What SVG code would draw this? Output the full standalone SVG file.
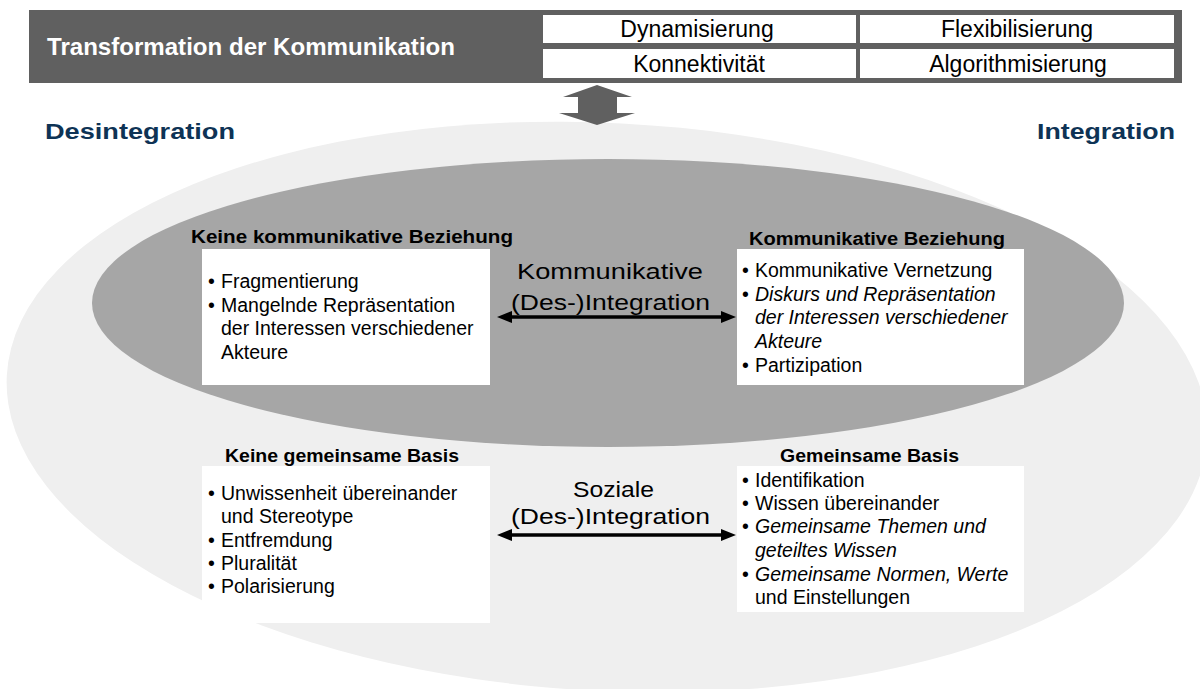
<svg xmlns="http://www.w3.org/2000/svg" width="1200" height="689" viewBox="0 0 1200 689">
<defs>
<style>
text{font-family:"Liberation Sans",Arial,sans-serif;fill:#000}
.cell{font-size:23px;text-anchor:middle}
.hd{font-size:18px;font-weight:bold}
.bd{font-size:19.5px}
.it{font-style:italic}
.ctr{font-size:22px}
.side{font-size:22px;font-weight:bold;fill:#0e3355}
.box{fill:#fff}
.conn{stroke:#000;stroke-width:3.5;fill:none}
.head{fill:#000}
</style>
</defs>
<rect width="1200" height="689" fill="#fff"/>
<g id="background">
<ellipse cx="607" cy="407" rx="601" ry="284" transform="rotate(3 607 407)" fill="#efefef"/>
<ellipse cx="608" cy="303" rx="516" ry="144" fill="#a6a6a6"/>
</g>
<g id="header">
<rect x="29" y="10" width="1153" height="73" fill="#606060"/>
<text x="47" y="55" font-size="24" font-weight="bold" style="fill:#fff" textLength="408" lengthAdjust="spacingAndGlyphs">Transformation der Kommunikation</text>
<rect x="543" y="15" width="313" height="28" fill="#fff"/>
<rect x="860" y="15" width="314" height="28" fill="#fff"/>
<rect x="543" y="49" width="313" height="29" fill="#fff"/>
<rect x="860" y="49" width="314" height="29" fill="#fff"/>
<text class="cell" x="697" y="37">Dynamisierung</text>
<text class="cell" x="1017" y="37">Flexibilisierung</text>
<text class="cell" x="699" y="72">Konnektivität</text>
<text class="cell" x="1018" y="72">Algorithmisierung</text>
</g>
<g id="label-desintegration"><text class="side" x="45" y="139" textLength="190" lengthAdjust="spacingAndGlyphs">Desintegration</text></g>
<g id="label-integration"><text class="side" x="1037" y="139" textLength="138" lengthAdjust="spacingAndGlyphs">Integration</text></g>
<g id="box-keine-kommunikative-beziehung">
<text class="hd" x="191" y="243" textLength="322" lengthAdjust="spacingAndGlyphs">Keine kommunikative Beziehung</text>
<rect class="box" x="202" y="249" width="288" height="136"/>
<text class="bd" x="208" y="288">•</text><text class="bd" x="221" y="288">Fragmentierung</text>
<text class="bd" x="208" y="312">•</text><text class="bd" x="221" y="312">Mangelnde Repräsentation</text>
<text class="bd" x="221" y="335">der Interessen verschiedener</text>
<text class="bd" x="221" y="359">Akteure</text>
</g>
<g id="box-kommunikative-beziehung">
<text class="hd" x="749" y="245" textLength="256" lengthAdjust="spacingAndGlyphs">Kommunikative Beziehung</text>
<rect class="box" x="737" y="249" width="287" height="136"/>
<text class="bd" x="742" y="277">•</text><text class="bd" x="755" y="277">Kommunikative Vernetzung</text>
<text class="bd" x="742" y="301">•</text><text class="bd it" x="755" y="301">Diskurs und Repräsentation</text>
<text class="bd it" x="755" y="324">der Interessen verschiedener</text>
<text class="bd it" x="755" y="348">Akteure</text>
<text class="bd" x="742" y="372">•</text><text class="bd" x="755" y="372">Partizipation</text>
</g>
<g id="box-keine-gemeinsame-basis">
<text class="hd" x="225" y="462" textLength="234" lengthAdjust="spacingAndGlyphs">Keine gemeinsame Basis</text>
<rect class="box" x="202" y="466" width="288" height="157"/>
<text class="bd" x="208" y="500">•</text><text class="bd" x="221" y="500">Unwissenheit übereinander</text>
<text class="bd" x="221" y="523">und Stereotype</text>
<text class="bd" x="208" y="547">•</text><text class="bd" x="221" y="547">Entfremdung</text>
<text class="bd" x="208" y="570">•</text><text class="bd" x="221" y="570">Pluralität</text>
<text class="bd" x="208" y="593">•</text><text class="bd" x="221" y="593">Polarisierung</text>
</g>
<g id="box-gemeinsame-basis">
<text class="hd" x="780" y="462" textLength="179" lengthAdjust="spacingAndGlyphs">Gemeinsame Basis</text>
<rect class="box" x="737" y="466" width="287" height="146"/>
<text class="bd" x="742" y="487">•</text><text class="bd" x="755" y="487">Identifikation</text>
<text class="bd" x="742" y="510">•</text><text class="bd" x="755" y="510">Wissen übereinander</text>
<text class="bd" x="742" y="533">•</text><text class="bd it" x="755" y="533">Gemeinsame Themen und</text>
<text class="bd it" x="755" y="557">geteiltes Wissen</text>
<text class="bd" x="742" y="581">•</text><text class="bd it" x="755" y="581">Gemeinsame Normen, Werte</text>
<text class="bd" x="755" y="604">und Einstellungen</text>
</g>
<g id="label-kommunikative">
<text class="ctr" x="517" y="279" textLength="186" lengthAdjust="spacingAndGlyphs">Kommunikative</text>
<text class="ctr" x="511" y="310" textLength="199" lengthAdjust="spacingAndGlyphs">(Des-)Integration</text>
</g>
<g id="label-soziale">
<text class="ctr" x="573" y="497" textLength="81" lengthAdjust="spacingAndGlyphs">Soziale</text>
<text class="ctr" x="511" y="524" textLength="199" lengthAdjust="spacingAndGlyphs">(Des-)Integration</text>
</g>
<g id="connectors">
<polygon points="597,85 632,97 617,97 617,113 635,113 597,125 559,113 578,113 578,97 563,97" fill="#606060"/>
<line class="conn" x1="508" y1="317" x2="725" y2="317"/>
<polygon class="head" points="497,317 512,311 512,323"/>
<polygon class="head" points="736,317 721,311 721,323"/>
<line class="conn" x1="508" y1="535" x2="725" y2="535"/>
<polygon class="head" points="497,535 512,529 512,541"/>
<polygon class="head" points="736,535 721,529 721,541"/>
</g>
</svg>
